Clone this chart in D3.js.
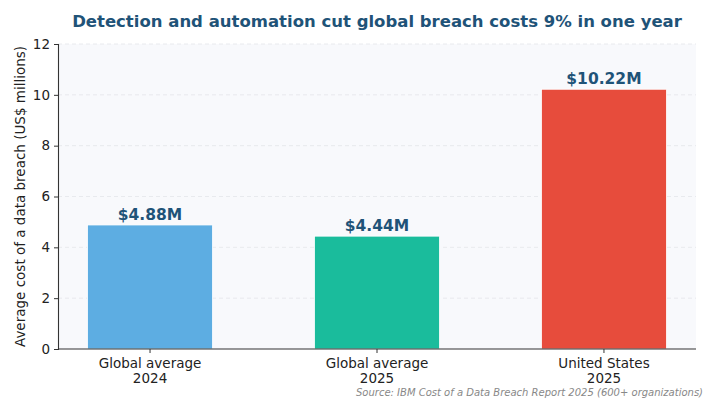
<!DOCTYPE html>
<html><head><meta charset="utf-8">
<script src="https://cdn.jsdelivr.net/npm/d3@7"></script>
<style>body{margin:0;background:#fff}svg{display:block;font-family:"DejaVu Sans",sans-serif}</style>
</head><body>
<script>
const categories = ["Global average\n2024", "Global average\n2025", "United States\n2025"];
const values = [4.88, 4.44, 10.22];
const valueLabels = ["$4.88M", "$4.44M", "$10.22M"];
const colors = ["#5DADE2", "#1ABC9C", "#E74C3C"];
const yTicks = [0, 2, 4, 6, 8, 10, 12];

const W = 711, H = 400;
const m = {l: 58, r: 15, t: 44, b: 51};
const svg = d3.select("body").append("svg").attr("width", W).attr("height", H);

const x = d3.scaleBand().domain(d3.range(categories.length))
  .range([m.l, W - m.r]).paddingInner(0.449).paddingOuter(0.13);
const y = d3.scaleLinear().domain([0, 12]).range([H - m.b, m.t]);

svg.append("rect").attr("x", m.l).attr("y", m.t).attr("width", W - m.r - m.l)
  .attr("height", H - m.b - m.t).attr("fill", "#f8f9fc");

svg.append("g").selectAll("line").data(yTicks.filter(d => d > 0)).join("line")
  .attr("x1", m.l).attr("x2", W - m.r).attr("y1", d => y(d)).attr("y2", d => y(d))
  .attr("stroke", "#e3e6ea").attr("stroke-width", 0.8).attr("stroke-dasharray", "4,3");

svg.append("g").selectAll("rect").data(values).join("rect")
  .attr("x", (d, i) => x(i)).attr("width", x.bandwidth())
  .attr("y", d => y(d)).attr("height", d => y(0) - y(d))
  .attr("fill", (d, i) => colors[i]).attr("stroke", "#ffffff").attr("stroke-width", 0.8);

svg.append("g").selectAll("text").data(values).join("text")
  .attr("x", (d, i) => x(i) + x.bandwidth() / 2).attr("y", d => y(d) - 5)
  .attr("text-anchor", "middle").attr("font-size", 15.5).attr("font-weight", "bold")
  .attr("fill", "#1f5378").text((d, i) => valueLabels[i]);

const ya = svg.append("g").attr("transform", `translate(${m.l},0)`)
  .call(d3.axisLeft(y).tickValues(yTicks).tickSize(4).tickPadding(4));
ya.select(".domain").attr("stroke", "#333").attr("stroke-width", 1.1);
ya.selectAll(".tick line").attr("stroke", "#333");
ya.selectAll("text").attr("font-size", 13.5).attr("fill", "#222").attr("font-family", "DejaVu Sans");

const xa = svg.append("g").attr("transform", `translate(0,${H - m.b})`)
  .call(d3.axisBottom(x).tickSize(4).tickFormat(""));
xa.select(".domain").attr("stroke", "#333").attr("stroke-width", 1.1).attr("d", `M${m.l},0H${W - m.r}`);
xa.selectAll(".tick line").attr("stroke", "#333");
xa.selectAll(".tick").each(function(d) {
  const lines = categories[d].split("\n");
  const t = d3.select(this).append("text").attr("text-anchor", "middle")
    .attr("font-size", 13.5).attr("fill", "#222").attr("font-family", "DejaVu Sans");
  lines.forEach((s, k) => t.append("tspan").attr("x", 0).attr("y", 19 + k * 15).text(s));
});

svg.append("text").attr("transform", `translate(25,${(m.t + H - m.b) / 2}) rotate(-90)`)
  .attr("text-anchor", "middle").attr("font-size", 13.5).attr("fill", "#222")
  .text("Average cost of a data breach (US$ millions)");

svg.append("text").attr("x", (m.l + W - m.r) / 2).attr("y", 27).attr("text-anchor", "middle")
  .attr("font-size", 16.5).attr("font-weight", "bold").attr("fill", "#1f5378")
  .text("Detection and automation cut global breach costs 9% in one year");

svg.append("text").attr("x", 703).attr("y", 396).attr("text-anchor", "end")
  .attr("font-size", 10).attr("font-style", "italic").attr("fill", "#888")
  .text("Source: IBM Cost of a Data Breach Report 2025 (600+ organizations)");
</script>
</body></html>
